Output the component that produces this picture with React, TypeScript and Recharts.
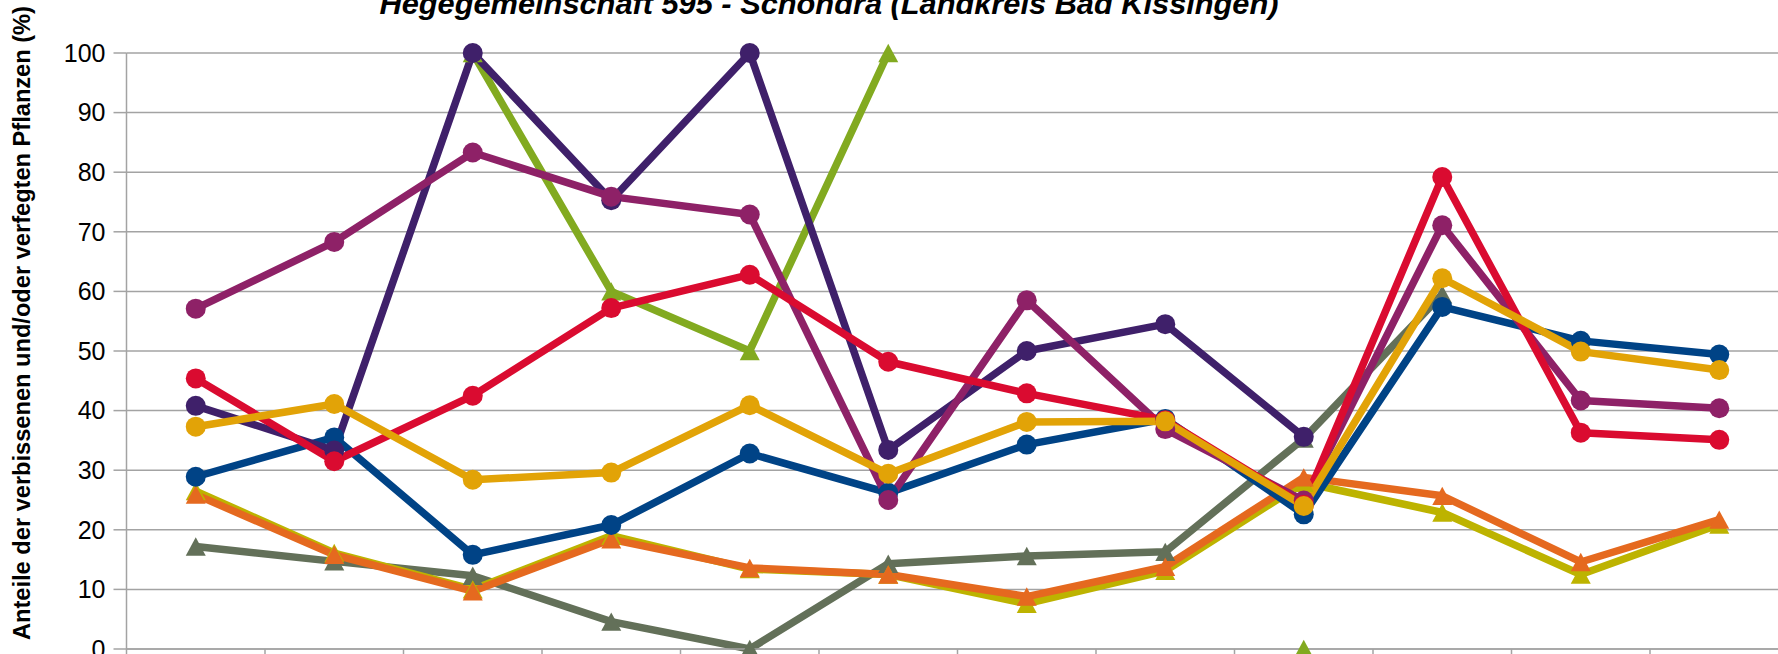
import React from "react"
import { CartesianGrid, Line, LineChart, XAxis, YAxis } from "recharts"

const YEARS = ["1991", "1994", "1997", "2000", "2003", "2006", "2009", "2012", "2015", "2018", "2021", "2024"]
const Y_TICKS = [0, 10, 20, 30, 40, 50, 60, 70, 80, 90, 100]

const darkPurple = [40.8, 33.3, 100, 75.3, 100, 33.4, 50, 54.5, 35.6, null, null, null]
const magenta = [57.1, 68.3, 83.3, 75.9, 72.9, 25, 58.5, 36.9, 24.9, 71.1, 41.7, 40.4]
const red = [45.4, 31.5, 42.5, 57.2, 62.8, 48.2, 42.9, 38.4, 24.2, 79.2, 36.3, 35.1]
const yellow = [37.3, 41.1, 28.4, 29.6, 40.9, 29.4, 38.1, 38.2, 24, 62.2, 49.9, 46.8]
const blue = [28.9, 35.5, 15.8, 20.8, 32.8, 26.2, 34.3, 38.6, 22.6, 57.4, 51.7, 49.4]
const green = [null, null, 100, 60, 50, 100, null, null, 0, null, null, null]
const olive = [26.5, 16.1, 10, 19, 13.4, 12.5, 7.6, 13.1, 27.9, 22.9, 12.5, 20.9]
const orange = [25.9, 15.8, 9.7, 18.4, 13.6, 12.5, 8.8, 13.8, 28.8, 25.7, 14.6, 21.7]
const gray = [17.2, 14.7, 12.3, 4.6, 0, 14.3, 15.6, 16.3, 35.3, 59.5, null, null]

// drawn bottom to top
const SERIES = [
  { key: "gray", values: gray, color: "#637059", shape: "tri" },
  { key: "green", values: green, color: "#82AA20", shape: "tri" },
  { key: "olive", values: olive, color: "#BDB300", shape: "tri" },
  { key: "orange", values: orange, color: "#E5691F", shape: "tri" },
  { key: "blue", values: blue, color: "#004386", shape: "circle" },
  { key: "darkPurple", values: darkPurple, color: "#3F206A", shape: "circle" },
  { key: "magenta", values: magenta, color: "#8E2167", shape: "circle" },
  { key: "red", values: red, color: "#DA0B30", shape: "circle" },
  { key: "yellow", values: yellow, color: "#E2A307", shape: "circle" },
]

const data = YEARS.map((year, i) => {
  const row: Record<string, any> = { year, idx: i + 1 }
  SERIES.forEach((s) => {
    row[s.key] = s.values[i]
  })
  return row
})

const boundaryTicks = YEARS.map((_, i) => i + 0.5).concat(YEARS.length + 0.5)

const GRID = "#A3A3A3"
const FONT = "'Liberation Sans', Arial, sans-serif"

function makeDot(color: string, shape: string) {
  return (props: any) => {
    const { cx, cy, index } = props
    if (cx == null || cy == null || props.value == null) return <g key={`d-${index}`} />
    if (shape === "circle") {
      return <circle key={`d-${index}`} cx={cx} cy={cy} r={10} fill={color} />
    }
    const w = 10
    const h = 9.2
    return (
      <path
        key={`d-${index}`}
        d={`M${cx},${cy - h} L${cx + w},${cy + h} L${cx - w},${cy + h} Z`}
        fill={color}
      />
    )
  }
}

export default function App() {
  return (
    <div
      style={{
        position: "fixed",
        left: 0,
        top: 0,
        width: 1778,
        height: 654,
        overflow: "hidden",
        background: "#fff",
      }}
    >
      <LineChart
        width={1800}
        height={720}
        data={data}
        margin={{ top: 53, right: 11.5, left: 0, bottom: 31 }}
      >
        <CartesianGrid vertical={false} stroke={GRID} strokeWidth={1.5} />
        <XAxis
          dataKey="idx"
          type="number"
          domain={[0.5, YEARS.length + 0.5]}
          ticks={boundaryTicks}
          tickFormatter={() => ""}
          height={40}
          tickSize={12}
          axisLine={{ stroke: GRID, strokeWidth: 1.5 }}
          tickLine={{ stroke: GRID, strokeWidth: 1.5 }}
        />
        <YAxis
          domain={[0, 100]}
          ticks={Y_TICKS}
          interval={0}
          width={126.5}
          tickSize={13}
          tickMargin={8}
          axisLine={{ stroke: GRID, strokeWidth: 1.5 }}
          tickLine={{ stroke: GRID, strokeWidth: 1.5 }}
          tick={{ fontSize: 25, fill: "#000", fontFamily: FONT }}
        />
        {SERIES.map((s) => (
          <Line
            key={s.key}
            dataKey={s.key}
            stroke={s.color}
            strokeWidth={7.5}
            strokeLinejoin="round"
            dot={makeDot(s.color, s.shape)}
            activeDot={false}
            isAnimationActive={false}
          />
        ))}
      </LineChart>
      <svg
        width={1778}
        height={654}
        style={{ position: "absolute", left: 0, top: 0, pointerEvents: "none" }}
      >
        <text
          x={829}
          y={14}
          textAnchor="middle"
          fontFamily={FONT}
          fontWeight="bold"
          fontStyle="italic"
          fontSize={30}
          textLength={899}
          lengthAdjust="spacingAndGlyphs"
        >
          Hegegemeinschaft 595 - Schondra (Landkreis Bad Kissingen)
        </text>
        <text
          transform="translate(30,323) rotate(-90)"
          textAnchor="middle"
          fontFamily={FONT}
          fontWeight="bold"
          fontSize={24}
          textLength={634}
          lengthAdjust="spacingAndGlyphs"
        >
          Anteile der verbissenen und/oder verfegten Pflanzen (%)
        </text>
      </svg>
    </div>
  )
}
